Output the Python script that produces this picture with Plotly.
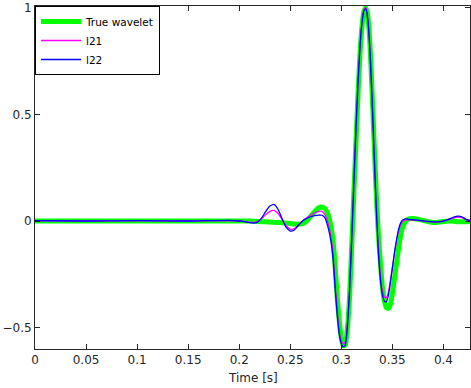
import plotly.graph_objects as go

time_s = [0, 0.05, 0.1, 0.15, 0.19, 0.2, 0.205, 0.21, 0.214, 0.218,
          0.222, 0.226, 0.23, 0.234, 0.238, 0.242, 0.246, 0.25, 0.254, 0.258,
          0.262, 0.266, 0.27, 0.274, 0.278, 0.281, 0.284, 0.287, 0.29, 0.292,
          0.294, 0.296, 0.298, 0.300, 0.302, 0.304, 0.306, 0.308, 0.310, 0.312,
          0.314, 0.316, 0.318, 0.320, 0.322, 0.324, 0.326, 0.328, 0.330, 0.332,
          0.334, 0.336, 0.338, 0.340, 0.342, 0.344, 0.346, 0.348, 0.350, 0.352,
          0.354, 0.356, 0.358, 0.360, 0.363, 0.366, 0.370, 0.375, 0.38, 0.385,
          0.39, 0.395, 0.40, 0.405, 0.41, 0.414, 0.418, 0.422, 0.426]

true_wavelet = [0, 0, 0, 0, 0, 0, 0, 0, -0.001, -0.002,
                -0.003, -0.004, -0.005, -0.006, -0.007, -0.008, -0.010, -0.012, -0.014, -0.015,
                -0.012, 0.0, 0.022, 0.045, 0.062, 0.066, 0.058, 0.03, -0.03, -0.10,
                -0.22, -0.36, -0.47, -0.55, -0.585, -0.58, -0.50, -0.36, -0.14, 0.10,
                0.33, 0.56, 0.76, 0.90, 0.98, 1.0, 0.96, 0.83, 0.62, 0.38,
                0.15, -0.04, -0.18, -0.30, -0.37, -0.405, -0.41, -0.39, -0.34, -0.27,
                -0.20, -0.13, -0.07, -0.03, 0.0, 0.01, 0.012, 0.008, 0.003, -0.003,
                -0.007, -0.006, -0.002, 0.0, -0.001, -0.003, -0.004, -0.003, -0.002]

l21 = [0.001, 0.0, 0.001, 0.0, 0.002, 0.0, -0.002, -0.005, -0.006, -0.002,
       0.012, 0.03, 0.045, 0.05, 0.035, 0.008, -0.022, -0.038, -0.036, -0.018,
       0.0, 0.015, 0.028, 0.038, 0.045, 0.045, 0.03, -0.01, -0.08, -0.16,
       -0.30, -0.42, -0.52, -0.565, -0.575, -0.565, -0.48, -0.33, -0.11, 0.13,
       0.38, 0.60, 0.79, 0.92, 0.99, 1.0, 0.95, 0.81, 0.60, 0.35,
       0.10, -0.10, -0.24, -0.32, -0.355, -0.36, -0.335, -0.28, -0.22, -0.15,
       -0.095, -0.05, -0.02, -0.003, 0.005, 0.006, 0.005, 0.003, 0.0, -0.003,
       -0.005, -0.004, 0.0, 0.006, 0.014, 0.018, 0.016, 0.007, 0.002]

l22 = [0.002, 0.0, 0.002, 0.0, 0.003, 0.0, -0.003, -0.008, -0.010, -0.005,
       0.015, 0.045, 0.07, 0.078, 0.055, 0.01, -0.03, -0.047, -0.042, -0.02,
       0.0, 0.012, 0.02, 0.025, 0.028, 0.027, 0.015, -0.03, -0.10, -0.18,
       -0.32, -0.44, -0.53, -0.575, -0.59, -0.58, -0.49, -0.33, -0.10, 0.15,
       0.40, 0.62, 0.80, 0.92, 0.985, 0.995, 0.94, 0.80, 0.58, 0.33,
       0.08, -0.12, -0.26, -0.34, -0.375, -0.38, -0.35, -0.29, -0.22, -0.15,
       -0.09, -0.04, -0.01, 0.005, 0.01, 0.008, 0.006, 0.004, 0.001, -0.002,
       -0.004, -0.004, 0.0, 0.008, 0.018, 0.023, 0.02, 0.008, 0.002]

x_ticks = [0, 0.05, 0.1, 0.15, 0.2, 0.25, 0.3, 0.35, 0.4]
x_tick_labels = ["0", "0.05", "0.1", "0.15", "0.2", "0.25", "0.3", "0.35", "0.4"]
y_ticks = [-0.5, 0, 0.5, 1]
y_tick_labels = ["\u22120.5", "0", "0.5", "1"]

line_shape = dict(shape="spline", smoothing=0.5)

fig = go.Figure()
fig.add_trace(go.Scatter(x=time_s, y=true_wavelet, mode="lines", name="True wavelet",
                         line=dict(color="#00ff00", width=5, **line_shape)))
fig.add_trace(go.Scatter(x=time_s, y=l21, mode="lines", name="l21",
                         line=dict(color="#ff00ff", width=1.3, **line_shape)))
fig.add_trace(go.Scatter(x=time_s, y=l22, mode="lines", name="l22",
                         line=dict(color="#0000ff", width=1.3, **line_shape)))

axis_common = dict(showgrid=False, zeroline=False, showline=True, linecolor="#262626",
                   linewidth=1, mirror="ticks", ticks="inside", ticklen=5,
                   tickcolor="#262626", automargin=False, ticklabeloverflow="allow",
                   tickfont=dict(family="DejaVu Sans", size=12, color="#262626"))

fig.update_layout(
    width=471, height=388,
    margin=dict(l=35, r=1, t=6, b=39),
    paper_bgcolor="white", plot_bgcolor="white",
    font=dict(family="DejaVu Sans", size=12, color="#262626"),
    xaxis=dict(range=[0, 0.426], tickvals=x_ticks, ticktext=x_tick_labels, **axis_common),
    yaxis=dict(range=[-0.6, 1.008], tickvals=y_ticks, ticktext=y_tick_labels, **axis_common),
    showlegend=True,
    legend=dict(x=0.0, y=1.0, xanchor="left", yanchor="top", bgcolor="white",
                bordercolor="black", borderwidth=1, font=dict(size=10.5, color="black"),
                tracegroupgap=0, itemwidth=40),
    annotations=[dict(text="Time [s]", x=0.5, y=0, xref="paper", yref="paper",
                      xanchor="center", yanchor="top", yshift=-20, showarrow=False,
                      font=dict(family="DejaVu Sans", size=12, color="#262626"))],
)

fig.write_html("out.html", config={"displayModeBar": False},
               post_script="document.body.style.margin='0px';document.body.style.overflow='hidden';")
